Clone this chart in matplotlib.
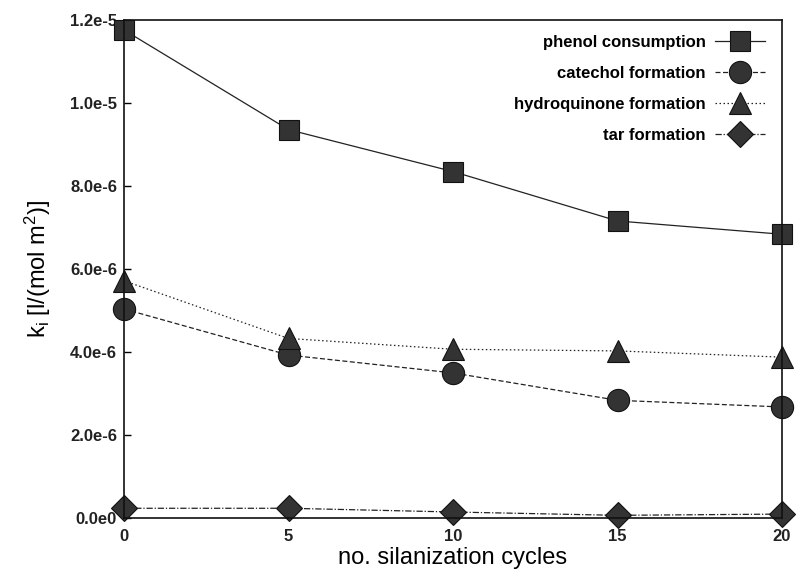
import numpy as np
import matplotlib
matplotlib.use("Agg")
import matplotlib.pyplot as plt

## data (values in l/(mol m^2))
cycles = [0, 5, 10, 15, 20]
phenol = [11.76e-6, 9.36e-6, 8.35e-6, 7.16e-6, 6.84e-6]
catechol = [5.04e-6, 3.93e-6, 3.50e-6, 2.84e-6, 2.68e-6]
hydroquinone = [5.72e-6, 4.33e-6, 4.07e-6, 4.03e-6, 3.88e-6]
tar = [0.24e-6, 0.24e-6, 0.15e-6, 0.07e-6, 0.10e-6]

labels = ["phenol consumption", "catechol formation",
          "hydroquinone formation", "tar formation"]
yticks = [0, 2e-6, 4e-6, 6e-6, 8e-6, 1.0e-5, 1.2e-5]
yticklabels = ["0.0e0", "2.0e-6", "4.0e-6", "6.0e-6", "8.0e-6", "1.0e-5", "1.2e-5"]
xticks = [0, 5, 10, 15, 20]

plt.rcParams['font.family'] = ['Liberation Sans', 'DejaVu Sans']
plt.rcParams['mathtext.fontset'] = 'custom'
plt.rcParams['mathtext.rm'] = 'Liberation Sans'
plt.rcParams['mathtext.it'] = 'Liberation Sans'

fig, ax = plt.subplots(figsize=(8, 5.72), dpi=100)
fig.subplots_adjust(left=0.155, right=0.9775, bottom=0.094, top=0.965)

fc = "#333333"
common = dict(color="#222222", lw=0.9, markerfacecolor=fc,
              markeredgecolor="#111111", markeredgewidth=0.8, clip_on=False)

ax.plot(cycles, phenol, ls="-", marker="s", ms=15, label=labels[0], **common)
ax.plot(cycles, catechol, ls=(0, (4, 2)), marker="o", ms=16, label=labels[1], **common)
ax.plot(cycles, hydroquinone, ls=(0, (1.2, 2)), marker="^", ms=16, label=labels[2], **common)
ax.plot(cycles, tar, ls=(0, (5, 1.5, 1, 1.5)), marker="D", ms=13, label=labels[3], **common)

ax.set_xlim(0, 20)
ax.set_ylim(0, 1.2e-5)
ax.set_xticks(xticks)
ax.set_xticklabels([str(x) for x in xticks])
ax.set_yticks(yticks)
ax.set_yticklabels(yticklabels)

ax.tick_params(axis="y", direction="in", length=5, width=1, pad=5, labelsize=12)
ax.tick_params(axis="x", length=0, pad=8, labelsize=12)
for lab in ax.get_xticklabels() + ax.get_yticklabels():
    lab.set_fontweight("bold")
    lab.set_color("#222222")

for sp in ax.spines.values():
    sp.set_linewidth(1.2)
    sp.set_color("#111111")

ax.set_xlabel("no. silanization cycles", fontsize=17, labelpad=2)
ax.set_ylabel(r"k$_\mathrm{i}$ [l/(mol m$^\mathrm{2}$)]", fontsize=17, labelpad=12)

leg = ax.legend(loc="upper right", bbox_to_anchor=(0.99, 0.99), frameon=False,
                markerfirst=False, handlelength=3.0, handletextpad=0.6,
                labelspacing=0.95, borderaxespad=0.2,
                prop={"size": 12, "weight": "bold"})

plt.savefig("out.png", dpi=100)
